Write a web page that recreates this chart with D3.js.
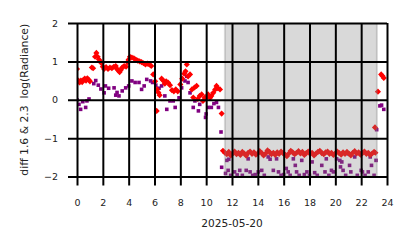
<!DOCTYPE html>
<html>
<head>
<meta charset="utf-8">
<script src="https://cdn.jsdelivr.net/npm/d3@7"></script>
<style>
  body { margin: 0; background: #fff; }
  svg { display: block; }
  text { font-family: "DejaVu Sans", sans-serif; fill: #222; }
</style>
</head>
<body>
<svg id="chart" width="414" height="248"></svg>
<script>
// red diamonds: hour of day, value
const redT = [0.0,0.1,0.2,0.3,0.4,0.5,0.6,0.7,0.8,0.9,1.0,1.15,1.25,1.4,1.5,1.6,1.7,1.8,1.9,2.0,2.1,2.25,2.4,2.55,2.7,2.85,3.0,3.1,3.2,3.3,3.4,3.5,3.65,3.8,3.9,4.0,4.1,4.25,4.4,4.55,4.7,4.85,5.0,5.15,5.3,5.45,5.6,5.75,5.9,6.05,6.17,6.2,6.3,6.4,6.55,6.67,6.8,6.9,7.05,7.2,7.35,7.5,7.65,7.8,8.0,8.15,8.3,8.4,8.5,8.6,8.75,8.9,9.0,9.1,9.26,9.35,9.5,9.65,9.75,9.9,10.0,10.15,10.3,10.4,10.55,10.7,10.8,10.9,11.07,11.2,
  11.3,11.45,11.6,11.75,11.9,12.05,12.2,12.35,12.5,12.65,12.8,12.95,13.1,13.25,13.4,13.55,13.7,13.85,14.0,14.15,14.3,14.45,14.6,14.75,14.9,15.05,15.2,15.35,15.5,15.65,15.8,15.95,16.1,16.25,16.4,16.55,16.7,16.85,17.0,17.15,17.3,17.45,17.6,17.75,17.9,18.05,18.2,18.35,18.5,18.65,18.8,18.95,19.1,19.25,19.4,19.55,19.7,19.85,20.0,20.15,20.3,20.45,20.6,20.75,20.9,21.05,21.2,21.35,21.5,21.65,21.8,21.95,22.1,22.25,22.4,22.55,22.7,22.85,23.0,23.1,
  23.07,23.3,23.55,23.65,23.75];
const redV = [0.80,0.50,0.45,0.50,0.46,0.52,0.55,0.50,0.56,0.52,0.48,0.84,0.82,1.12,1.22,1.12,1.05,1.00,0.95,0.86,0.80,0.85,0.80,0.84,0.82,0.86,0.88,0.80,0.76,0.72,0.78,0.84,0.88,0.86,0.98,1.05,1.12,1.10,1.08,1.05,1.02,1.00,0.98,0.95,0.92,0.94,0.92,0.88,0.66,0.48,-0.29,0.27,0.19,0.12,0.55,0.50,0.42,0.48,0.45,0.38,0.25,0.22,0.27,0.22,0.40,0.55,0.68,0.74,0.92,0.61,0.66,0.27,0.06,0.32,0.36,0.02,0.10,0.14,-0.03,0.06,0.05,0.14,0.05,0.10,0.18,0.27,0.36,0.30,0.27,-0.36,
  -1.33,-1.38,-1.42,-1.36,-1.45,-1.40,-1.35,-1.42,-1.38,-1.44,-1.36,-1.40,-1.46,-1.38,-1.35,-1.41,-1.37,-1.43,-1.40,-1.34,-1.39,-1.45,-1.40,-1.32,-1.36,-1.42,-1.38,-1.44,-1.37,-1.41,-1.35,-1.39,-1.43,-1.47,-1.40,-1.33,-1.37,-1.42,-1.38,-1.34,-1.40,-1.36,-1.44,-1.39,-1.35,-1.41,-1.38,-1.45,-1.40,-1.36,-1.33,-1.39,-1.42,-1.37,-1.35,-1.41,-1.38,-1.44,-1.40,-1.35,-1.39,-1.43,-1.37,-1.41,-1.36,-1.40,-1.45,-1.38,-1.34,-1.40,-1.37,-1.43,-1.39,-1.35,-1.41,-1.38,-1.44,-1.40,-1.36,-1.38,
  -0.72,0.21,0.66,0.62,0.57];

// purple squares
const purT = [0.0,0.15,0.28,0.45,0.67,0.77,0.93,1.3,1.45,1.65,1.85,2.1,2.2,2.45,2.87,3.0,3.1,3.25,3.5,3.77,4.0,4.25,4.5,4.8,5.0,5.2,5.4,5.7,5.85,6.1,6.35,6.55,6.8,6.95,7.2,7.45,7.6,7.9,8.1,8.36,8.5,8.6,8.75,9.0,9.13,9.4,9.5,9.95,10.0,10.15,10.4,10.6,10.8,10.95,11.15,11.2,11.5,11.75,
  11.6,11.7,11.9,12.2,12.4,12.6,12.8,13.1,13.25,13.4,13.6,13.8,14.03,14.3,14.5,14.8,14.95,15.2,15.45,15.6,15.8,16.0,16.2,16.35,16.5,16.75,16.9,17.0,17.2,17.4,17.6,17.8,18.0,18.2,18.4,18.6,18.95,19.2,19.3,19.5,19.7,19.85,20.1,20.35,20.5,20.4,20.6,20.8,21.0,21.1,21.2,21.5,21.7,22.0,22.1,22.3,22.55,22.7,22.8,23.0,23.15,
  23.2,23.45,23.58,23.75];
const purV = [0.00,-0.12,-0.25,-0.05,-0.20,-0.03,0.02,0.42,0.50,0.38,0.28,0.18,0.36,0.30,0.31,0.12,0.19,0.10,0.23,0.31,0.36,0.49,0.45,0.45,0.27,0.36,0.53,0.49,0.45,0.38,0.30,0.36,0.10,-0.25,-0.03,-0.03,-0.20,0.05,0.31,0.49,0.61,0.45,0.18,-0.20,-0.03,-0.29,-0.12,-0.46,-0.37,-0.20,-0.20,-0.10,-0.07,-0.20,-0.84,-1.76,-1.92,-1.55,
  -1.58,-1.84,-1.97,-1.88,-1.96,-1.84,-1.97,-1.84,-1.54,-1.88,-1.97,-1.95,-1.88,-1.84,-1.97,-1.49,-1.55,-1.84,-1.54,-1.88,-1.97,-1.95,-1.79,-1.88,-1.97,-1.54,-1.71,-1.88,-1.97,-1.58,-1.95,-1.88,-1.97,-1.62,-1.90,-1.97,-1.71,-1.88,-1.54,-1.97,-1.84,-1.88,-1.54,-1.58,-1.62,-1.75,-1.84,-1.97,-1.41,-1.71,-1.88,-1.49,-1.97,-1.84,-1.88,-1.97,-1.88,-1.49,-1.71,-1.97,-1.58,
  -0.78,-0.16,-0.14,-0.25];

// shaded night interval (hours)
const shadeSpan = [11.45, 23.22];
const xTicks = [0,2,4,6,8,10,12,14,16,18,20,22,24];
const yTicks = [-2,-1,0,1,2];

const svg = d3.select("#chart");
const m = { l: 77, r: 27, t: 23, b: 71.5 };
const W = 414, H = 248;

const x = d3.scaleLinear().domain([0, 24]).range([m.l, W - m.r]);
const y = d3.scaleLinear().domain([-2, 2]).range([H - m.b, m.t]);

svg.append("defs").append("clipPath").attr("id", "clip")
  .append("rect")
  .attr("x", x(0)).attr("y", y(2))
  .attr("width", x(24) - x(0)).attr("height", y(-2) - y(2));

const plot = svg.append("g").attr("clip-path", "url(#clip)");

// purple squares under red diamonds
plot.append("g").selectAll("rect")
  .data(d3.zip(purT, purV))
  .join("rect")
  .attr("x", (d) => x(d[0]) - 1.8)
  .attr("y", (d) => y(d[1]) - 1.8)
  .attr("width", 3.6).attr("height", 3.6)
  .attr("fill", "#800080");

const diamond = d3.symbol().type(d3.symbolDiamond2).size(24);
plot.append("g").selectAll("path")
  .data(d3.zip(redT, redV))
  .join("path")
  .attr("d", diamond)
  .attr("transform", (d) => `translate(${x(d[0])},${y(d[1])})`)
  .attr("fill", "#ff0000");

// shaded band on top of points
plot.append("rect")
  .attr("x", x(shadeSpan[0]))
  .attr("y", y(2))
  .attr("width", x(shadeSpan[1]) - x(shadeSpan[0]))
  .attr("height", y(-2) - y(2))
  .attr("fill", "rgba(128,128,128,0.3)")
  .attr("stroke", "rgba(128,128,128,0.3)")
  .attr("stroke-width", 2);

// axes with gridlines (tick extended across plot)
const tickLen = 9;
const xAxis = d3.axisBottom(x).tickValues(xTicks)
  .tickSize(-(y(-2) - y(2)) - tickLen).tickPadding(14).tickFormat(d3.format("d"));
const gx = svg.append("g")
  .attr("transform", `translate(0,${y(-2) + tickLen})`)
  .call(xAxis);
gx.select(".domain").remove();
gx.selectAll("line").attr("stroke", "#000").attr("stroke-width", 2);
gx.selectAll("text").attr("font-size", 9.5).attr("fill", "#222");

const yAxis = d3.axisLeft(y).tickValues(yTicks)
  .tickSize(-(x(24) - x(0)) - tickLen).tickPadding(10)
  .tickFormat((d) => (d < 0 ? "\u2212" + Math.abs(d) : d));
const gy = svg.append("g")
  .attr("transform", `translate(${x(0) - tickLen},0)`)
  .call(yAxis);
gy.select(".domain").remove();
gy.selectAll("line").attr("stroke", "#000").attr("stroke-width", 2);
gy.selectAll("text").attr("font-size", 9.5).attr("fill", "#222");

// labels
svg.append("text")
  .attr("x", (x(0) + x(24)) / 2).attr("y", 227)
  .attr("text-anchor", "middle").attr("font-size", 10.6)
  .text("2025-05-20");

svg.append("text")
  .attr("transform", `translate(28,${(y(2) + y(-2)) / 2}) rotate(-90)`)
  .attr("text-anchor", "middle").attr("font-size", 10.8)
  .attr("xml:space", "preserve")
  .style("white-space", "pre")
  .text("diff 1.6 & 2.3  log(Radiance)");
</script>
</body>
</html>
